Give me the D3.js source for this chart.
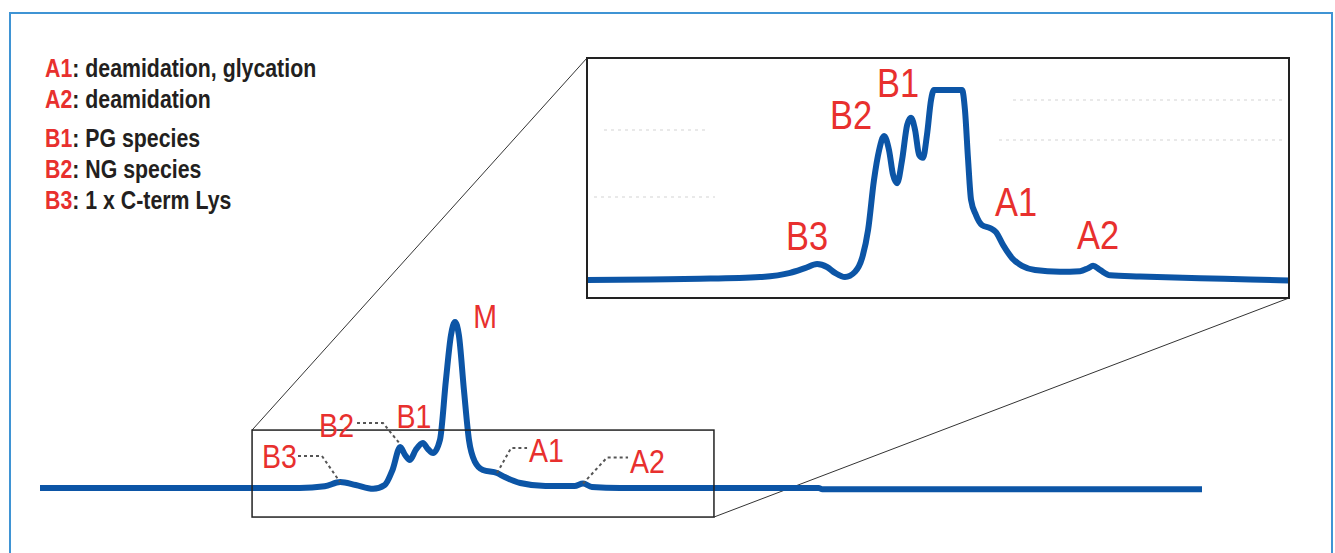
<!DOCTYPE html>
<html>
<head>
<meta charset="utf-8">
<script src="https://cdn.jsdelivr.net/npm/d3@7"></script>
<style>
  body { margin: 0; background: #fff; }
  svg { display: block; }
  .lbl { font-family: "Liberation Sans", Arial, sans-serif; fill: #e8302e; }
  .legend { font-family: "Liberation Sans", Arial, sans-serif; font-weight: bold; font-size: 26px; fill: #231f20; }
</style>
</head>
<body>
<script>
// Page size
const w = 1335;
const h = 553;

// Full chromatogram (retention time in min, signal in % of main peak)
const mainTime = [0, 13.4, 14.7, 15.5, 16.3, 17.2, 17.8, 18.2, 18.6, 18.85, 19.1, 19.4, 19.77, 20.03, 20.3,
  20.65, 20.96, 21.22, 21.43, 21.63, 21.89, 22.15, 22.46, 22.87, 23.6, 24.0, 24.8, 26.1, 27.6, 28.04, 28.5,
  29.95, 40.2, 40.4, 60];
const mainSignal = [0, 0, 1, 3.6, 1.8, -0.5, 1.8, 10.8, 24.7, 19.9, 16.9, 22.9, 27.1, 23.5, 21.1,
  28.9, 65, 92, 100, 92, 59, 28.9, 15.7, 10.8, 9.0, 6.6, 3.0, 1.2, 1.2, 2.7, 0.6,
  0, 0, -0.8, -0.8];

// Zoomed trace (same units, detector saturates above 32.2)
const zoomTime = [5.25, 8.06, 10.28, 12.95, 14.29, 14.95, 15.49, 15.93, 16.29, 16.73, 17.18, 17.49, 17.76,
  18.02, 18.25, 18.47, 18.69, 18.87, 19.05, 19.27, 19.5, 19.67, 19.85, 20.03, 20.2, 20.38, 20.56, 20.69,
  20.96, 21.27, 21.63, 21.94, 22.07, 22.21, 22.34, 22.56, 22.83, 23.19, 23.45, 23.77, 24.17, 24.61, 25.19,
  26.3, 27.19, 27.55, 27.77, 28.08, 28.53, 29.86, 32.53, 34.76, 36.49];
const zoomSignal = [0, 0.1, 0.2, 0.5, 1.2, 2.0, 2.7, 2.2, 1.2, 0.5, 1.4, 3.7, 8.5,
  16.9, 22.0, 24.4, 22.0, 17.8, 16.4, 20.3, 26.3, 27.5, 25.4, 21.2, 20.7, 24.6, 30.5, 35,
  60, 100, 60, 35, 28.8, 20.3, 13.6, 11.0, 9.3, 8.8, 8.1, 5.9, 3.7, 2.4, 1.7,
  1.4, 1.5, 2.0, 2.4, 1.7, 0.8, 0.6, 0.3, 0.1, -0.1];
const saturation = 32.2;

// Peak names and where they sit
const peakNames = ["B3", "B2", "B1", "M", "A1", "A2"];
const peakTime = [15.49, 18.59, 19.77, 21.43, 23.6, 28.04];
const mainPeakSignal = [3.6, 24.7, 27.1, 100, 9.0, 2.7];
const zoomPeakTime = [15.49, 18.47, 19.67, 21.27, 23.19, 27.77];
const zoomPeakSignal = [2.7, 24.4, 27.5, saturation, 8.8, 2.4];

// Zoom window on the full trace
const zoomWindowTime = [10.95, 34.8];
const zoomWindowSignal = [-17.5, 34.9];

// Legend
const legendKeys = ["A1", "A2", "B1", "B2", "B3"];
const legendText = [": deamidation, glycation", ": deamidation", ": PG species", ": NG species", ": 1 x C-term Lys"];

const blue = "#0c55a6";
const red = "#e8302e";
const narrow = 0.84; // condensed look

const svg = d3.select("body").append("svg").attr("width", w).attr("height", h);

// outer frame
svg.append("rect")
  .attr("x", 10).attr("y", 13).attr("width", 1322).attr("height", 600)
  .attr("fill", "none").attr("stroke", "#3f94d4").attr("stroke-width", 2);

// main scales
const x = d3.scaleLinear().domain([0, 60]).range([40, 1202]);
const y = d3.scaleLinear().domain([0, 100]).range([488, 322]);

// inset scales
const insetX = d3.scaleLinear().domain([5.25, 36.49]).range([587, 1289]);
const insetY = d3.scaleLinear().domain([-3.05, 37.6]).range([298, 58]);

const zx0 = x(zoomWindowTime[0]), zx1 = x(zoomWindowTime[1]);
const zy0 = y(zoomWindowSignal[1]), zy1 = y(zoomWindowSignal[0]);
const [ix0, ix1] = insetX.range();
const [iy1, iy0] = insetY.range();

// faint gridline remnants in the inset
const faint = [[604, 705, 130], [594, 715, 197], [1013, 1286, 100], [999, 1286, 140]];
svg.selectAll("line.faint")
  .data(faint)
  .enter()
  .append("line")
  .attr("class", "faint")
  .attr("x1", (d) => d[0]).attr("x2", (d) => d[1])
  .attr("y1", (d) => d[2]).attr("y2", (d) => d[2])
  .attr("stroke", "#e2e2e2").attr("stroke-width", 1.5).attr("stroke-dasharray", "3,4");

// connector lines
svg.append("line")
  .attr("x1", zx0).attr("y1", zy0).attr("x2", ix0).attr("y2", iy0)
  .attr("stroke", "#333").attr("stroke-width", 1);
svg.append("line")
  .attr("x1", zx1).attr("y1", zy1).attr("x2", ix1).attr("y2", iy1)
  .attr("stroke", "#333").attr("stroke-width", 1);

// main trace
const mainData = mainTime.map((t, i) => [t, mainSignal[i]]);
svg.append("path")
  .datum(mainData)
  .attr("fill", "none")
  .attr("stroke", blue)
  .attr("stroke-width", 6)
  .attr("stroke-linejoin", "round")
  .attr("d", d3.line().curve(d3.curveMonotoneX).x((d) => x(d[0])).y((d) => y(d[1])));

// zoom window
svg.append("rect")
  .attr("x", zx0).attr("y", zy0).attr("width", zx1 - zx0).attr("height", zy1 - zy0)
  .attr("fill", "none").attr("stroke", "#222").attr("stroke-width", 1.5);

// inset trace, clipped at detector saturation
const zoomData = zoomTime.map((t, i) => [t, Math.min(zoomSignal[i], saturation)]);
svg.append("path")
  .datum(zoomData)
  .attr("fill", "none")
  .attr("stroke", blue)
  .attr("stroke-width", 6)
  .attr("stroke-linejoin", "round")
  .attr("d", d3.line().curve(d3.curveMonotoneX).x((d) => insetX(d[0])).y((d) => insetY(d[1])));

svg.append("rect")
  .attr("x", ix0).attr("y", iy0).attr("width", ix1 - ix0).attr("height", iy1 - iy0)
  .attr("fill", "none").attr("stroke", "#222").attr("stroke-width", 2);

// label text helper, squeezed horizontally
function label(px, py, name, size, anchor) {
  svg.append("text")
    .attr("class", "lbl")
    .attr("transform", `translate(${px},${py}) scale(${narrow},1)`)
    .attr("text-anchor", anchor)
    .attr("font-size", size)
    .text(name);
}

// main labels: offsets of label anchor, leader = elbow
const mainLayout = {
  B3: { lx: -43, ly: -14, anchor: "end", leader: [[-42, -26], [-18, -26], [0, 0]] },
  B2: { lx: -46, ly: -10, anchor: "end", leader: [[-43, -24], [-17, -24], [0, -3]] },
  B1: { lx: -9, ly: -15, anchor: "middle", leader: null },
  M: { lx: 30, ly: 6, anchor: "middle", leader: null },
  A1: { lx: 32, ly: -11, anchor: "start", leader: [[0, 0], [14, -25], [30, -25]] },
  A2: { lx: 47, ly: -11, anchor: "start", leader: [[0, 0], [24, -26], [45, -26]] },
};

peakNames.forEach((name, i) => {
  const px = x(peakTime[i]);
  const py = y(mainPeakSignal[i]);
  const l = mainLayout[name];
  if (l.leader) {
    svg.append("path")
      .attr("d", d3.line()(l.leader.map((p) => [px + p[0], py + p[1]])))
      .attr("fill", "none")
      .attr("stroke", "#555")
      .attr("stroke-width", 2)
      .attr("stroke-dasharray", "3,3");
  }
  label(px + l.lx, py + l.ly, name, 34, l.anchor);
});

// inset labels
const insetLayout = {
  B3: [-10, -14], B2: [-33, -7], B1: [-13, -21], A1: [26, -12], A2: [5, -17],
};
peakNames.forEach((name, i) => {
  if (!insetLayout[name]) return;
  const px = insetX(zoomPeakTime[i]);
  const py = insetY(zoomPeakSignal[i]);
  label(px + insetLayout[name][0], py + insetLayout[name][1], name, 41, "middle");
});

// legend
const legendY = [77, 108, 147, 178, 209];
const legend = svg.append("g").attr("transform", `translate(45,0) scale(0.82,1)`);
legendKeys.forEach((k, i) => {
  const t = legend.append("text").attr("class", "legend").attr("x", 0).attr("y", legendY[i]);
  t.append("tspan").attr("fill", red).text(k);
  t.append("tspan").text(legendText[i]);
});
</script>
</body>
</html>
